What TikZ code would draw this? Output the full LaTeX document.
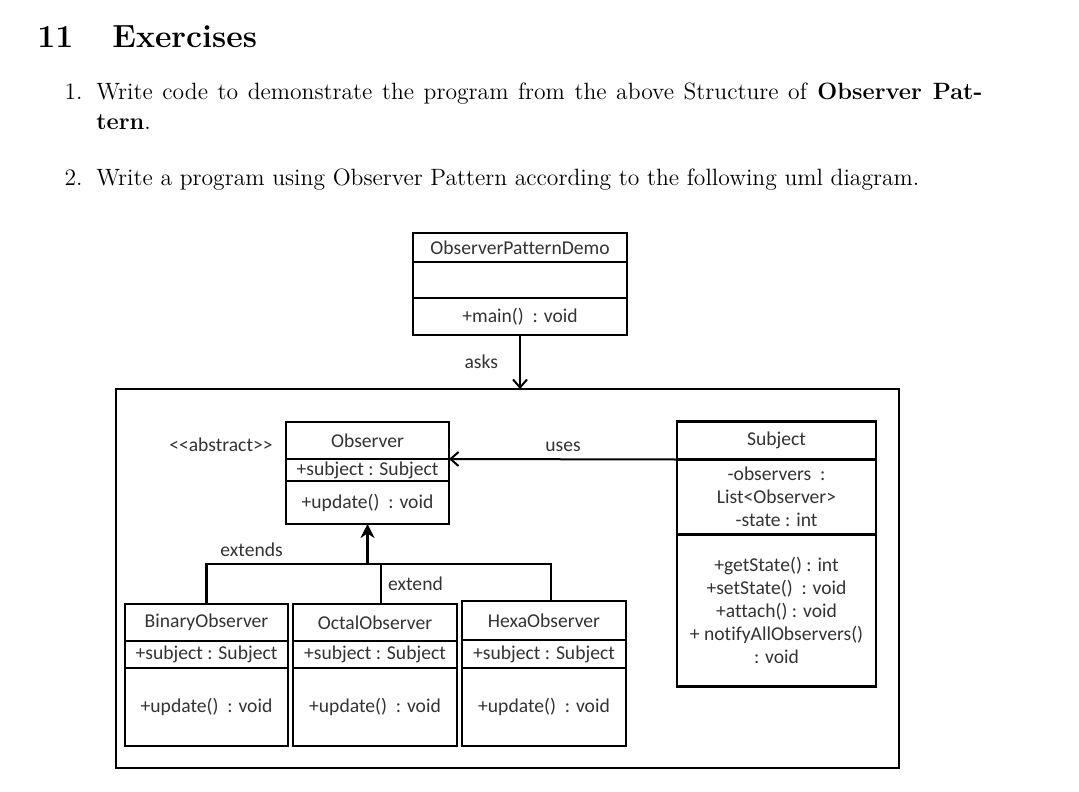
\documentclass[tikz,border=0pt]{standalone}
\usepackage{fontspec}
\newfontfamily\umlfont[Ligatures=NoCommon]{Carlito}
\usepackage{tikz}
\usetikzlibrary{positioning,arrows.meta}

\begin{document}
\begin{tikzpicture}[
  x=0.5pt, y=-0.5pt,
  txt/.style={anchor=base west, inner sep=0pt, font=\fontsize{11.8}{14}\selectfont},
  itemlabel/.style={anchor=base east, inner sep=0pt, font=\fontsize{11.8}{14}\selectfont},
  classbox/.style={rectangle, draw=black, line width=1.2pt, fill=white, inner sep=0pt,
    outer sep=0pt, align=center, text=black!80, font=\umlfont\fontsize{9.8}{11.5}\selectfont},
  pkgframe/.style={rectangle, draw=black, line width=1.3pt, inner sep=0pt, outer sep=0pt},
  lbl/.style={inner sep=1pt, text=black!80, font=\umlfont\fontsize{9.8}{11.5}\selectfont},
  callarrow/.style={line width=1pt, -{Straight Barb[length=4pt,width=7pt]}},
  genline/.style={line width=1.1pt},
  genarrow/.style={line width=1.6pt, -{Stealth[length=7pt,width=7pt]}}
]
  \useasboundingbox (0,0) rectangle (1079,791);

  % heading and exercise text
  \node[anchor=base west, inner sep=0pt, font=\fontsize{16}{19}\selectfont\bfseries] (secnum) at (37,48) {11};
  \node[anchor=base west, inner sep=0pt, font=\fontsize{16}{19}\selectfont\bfseries] (sectitle) at (112,48) {Exercises};
  \node[itemlabel] (lab1) at (83,100) {1.};
  \node[txt] (item1a) at (96,100) {\makebox[443pt][s]{Write code to demonstrate the program from the above Structure of \textbf{Observer Pat-}}};
  \node[txt] (item1b) at (96,130) {\textbf{tern}.};
  \node[itemlabel] (lab2) at (83,185) {2.};
  \node[txt] (item2) at (96,185) {Write a program using Observer Pattern according to the following uml diagram.};

  % main class
  \node[classbox, minimum width=107pt, minimum height=14.5pt, anchor=north west] (demo) at (413,233) {ObserverPatternDemo};
  \node[classbox, minimum width=107pt, minimum height=18pt, below=0pt of demo] (demoattr) {};
  \node[classbox, minimum width=107pt, minimum height=18.5pt, below=0pt of demoattr] (demoop) {+main()\ \ : void};

  % package frame
  \node[pkgframe, minimum width=391.5pt, minimum height=189.5pt, anchor=north west] (pkg) at (116,389) {};

  % observer
  \node[classbox, minimum width=81.5pt, minimum height=18.5pt, anchor=north west] (obs) at (286,422) {Observer};
  \node[classbox, minimum width=81.5pt, minimum height=11pt, below=0pt of obs] (obsattr) {+subject : Subject};
  \node[classbox, minimum width=81.5pt, minimum height=21.5pt, below=0pt of obsattr] (obsop) {+update()\ \ : void};
  \node[lbl, left=5.5pt of obs, yshift=-2pt] (abstr) {<\kern0pt<abstract>\kern0pt>};

  % subject
  \node[classbox, minimum width=99.5pt, minimum height=19pt, right=114pt of obs] (subj) {Subject};
  \node[classbox, minimum width=99.5pt, minimum height=37.5pt, below=0pt of subj] (subjattr)
    {-observers\ \ :\\List<Observer>\\-state : int};
  \node[classbox, minimum width=99.5pt, minimum height=76pt, below=0pt of subjattr] (subjop)
    {+getState() : int\\+setState()\ \ : void\\+attach() : void\\+ notifyAllObservers()\\: void};

  % concrete observers
  \node[classbox, minimum width=81.5pt, minimum height=18.5pt, anchor=north west] (bin) at (125,604) {BinaryObserver};
  \node[classbox, minimum width=81.5pt, minimum height=13.5pt, below=0pt of bin] (binattr) {+subject : Subject};
  \node[classbox, minimum width=81.5pt, minimum height=39pt, below=0pt of binattr] (binop) {+update()\ \ : void};

  \node[classbox, minimum width=82pt, minimum height=18.5pt, right=2.5pt of bin] (oct) {OctalObserver};
  \node[classbox, minimum width=82pt, minimum height=13.5pt, below=0pt of oct] (octattr) {+subject : Subject};
  \node[classbox, minimum width=82pt, minimum height=39pt, below=0pt of octattr] (octop) {+update()\ \ : void};

  \node[classbox, minimum width=82pt, minimum height=19.5pt, anchor=north west] (hexa) at (462,601) {HexaObserver};
  \node[classbox, minimum width=82pt, minimum height=14pt, below=0pt of hexa] (hexaattr) {+subject : Subject};
  \node[classbox, minimum width=82pt, minimum height=39pt, below=0pt of hexaattr] (hexaop) {+update()\ \ : void};

  % connectors
  \draw[callarrow] (demoop.south) -- node[lbl, left=9.5pt] {asks} (demoop.south |- pkg.north);
  \draw[callarrow] (subj.south west) -- node[lbl, above=2.5pt] {uses} (obs.south east);

  \coordinate (join) at (367.5,564);
  \draw[genline] (bin.north) |- node[lbl, above=2pt, pos=0.64] {extends} (join);
  \draw[genline] (join) -| ([xshift=3.5pt]hexa.north);
  \draw[genline] ([xshift=3pt]oct.north) -- node[lbl, right=2pt] {extend} ([xshift=3pt]oct.north |- join);
  \draw[genarrow] (join) -- (obsop.south);
\end{tikzpicture}
\end{document}
